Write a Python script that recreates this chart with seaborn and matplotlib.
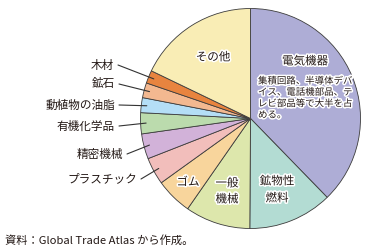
import numpy as np
import matplotlib
matplotlib.use("Agg")
import matplotlib.pyplot as plt
import matplotlib.patheffects as pe
import seaborn as sns

sns.set_style("white")
plt.rcParams['font.family'] = ['Noto Sans CJK JP', 'DejaVu Sans']

# Share of exports by product (%), clockwise from 12 o'clock
categories = ["電気機器", "鉱物性燃料", "一般機械", "ゴム", "プラスチック", "精密機械",
              "有機化学品", "動植物の油脂", "鉱石", "木材", "その他"]
shares = [37.8, 12.4, 9.6, 5.4, 4.0, 3.7, 3.1, 2.2, 2.2, 1.9, 17.9]
colors = ["#AEADD6", "#B3DCD3", "#DDE7AC", "#F8D59C", "#F2BEBB", "#D2B2D9",
          "#BBDBAD", "#B4DEF6", "#F3B890", "#E8843F", "#F9EDB5"]
palette = sns.color_palette(colors)

note_lines = ["集積回路、半導体デバ", "イス、電話機部品、テ", "レビ部品等で大半を占", "める。"]
source = "資料：Global Trade Atlas から作成。"

W, H = 369, 253
fig = plt.figure(figsize=(W / 100, H / 100), dpi=100)
ax = fig.add_axes([0, 0, 1, 1])

def py(y):
    # pixel row (from top) to data y
    return H - y

cx, cy, R = 250.5, py(119.5), 110
wedges, _ = ax.pie(shares, colors=palette, startangle=90, counterclock=False,
                   center=(cx, cy), radius=R,
                   wedgeprops=dict(edgecolor="#3c3c3c", linewidth=0.6))
ax.set_xlim(0, W)
ax.set_ylim(0, H)
ax.set_aspect("equal")
ax.axis("off")

txt = "#231815"
halo = [pe.withStroke(linewidth=2.2, foreground="white")]

# labels inside the wedges
inner = {
    "電気機器": [("電気機器", 305, 62)],
    "その他": [("その他", 213, 58)],
    "鉱物性燃料": [("鉱物性", 277, 182), ("燃料", 277, 199)],
    "一般機械": [("一般", 227, 184), ("機械", 227, 200)],
    "ゴム": [("ゴム", 188, 183)],
}
for key, items in inner.items():
    for s, x, y in items:
        ax.text(x, py(y), s, ha="center", va="center", fontsize=8.3, color=txt,
                path_effects=halo)

for i, line in enumerate(note_lines):
    ax.text(258, py(82 + i * 11.4), line, ha="left", va="center", fontsize=6.8,
            color=txt, path_effects=halo)

# small wedges labelled outside with leader lines
outer = {
    "木材": (114, 65),
    "鉱石": (115, 84),
    "動植物の油脂": (115, 105),
    "有機化学品": (115, 126),
    "精密機械": (123, 154),
    "プラスチック": (137, 179),
}
for w, name in zip(wedges, categories):
    if name not in outer:
        continue
    tx, ty = outer[name]
    ax.text(tx, py(ty), name, ha="right", va="center", fontsize=8.4, color=txt)
    mid = np.deg2rad((w.theta1 + w.theta2) / 2)
    ex, ey = cx + 0.95 * R * np.cos(mid), cy + 0.95 * R * np.sin(mid)
    ax.plot([tx + 4, ex], [py(ty + 1), ey], color="#333333", linewidth=0.8)

ax.text(5, py(240), source, ha="left", va="center", fontsize=8.1, color=txt)

fig.savefig("out.png", dpi=100)
